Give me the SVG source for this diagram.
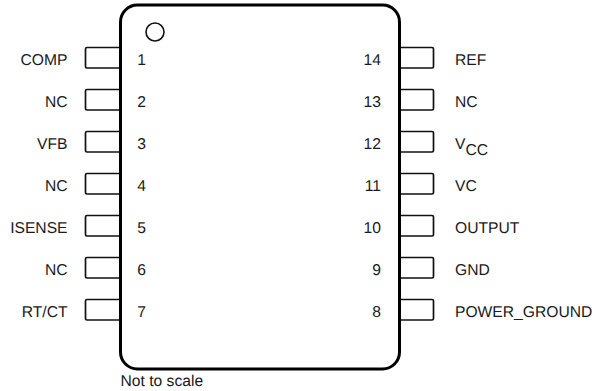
<svg xmlns="http://www.w3.org/2000/svg" width="594" height="391" viewBox="0 0 594 391">
<style>
text{font-family:"Liberation Sans",Arial,sans-serif;font-size:15.65px;fill:#1a1a1a;text-rendering:geometricPrecision}
.e{text-anchor:end}.m{text-anchor:middle}
.pin{fill:#fff;stroke:#111;stroke-width:1.7;stroke-linejoin:round}
</style>
<rect width="594" height="391" fill="#fff"/>
<g id="pins">
<g id="pin1"><path class="pin" d="M120 47.500H87Q85.500 47.500 85.500 49V66.500Q85.500 68 87 68H120"/><text class="e" x="67.500" y="65">COMP</text><text class="m" x="141.500" y="65">1</text></g>
<g id="pin2"><path class="pin" d="M120 89.500H87Q85.500 89.500 85.500 91V108.500Q85.500 110 87 110H120"/><text class="e" x="67.500" y="107">NC</text><text class="m" x="141.500" y="107">2</text></g>
<g id="pin3"><path class="pin" d="M120 131.500H87Q85.500 131.500 85.500 133V150.500Q85.500 152 87 152H120"/><text class="e" x="67.500" y="149">VFB</text><text class="m" x="141.500" y="149">3</text></g>
<g id="pin4"><path class="pin" d="M120 173.500H87Q85.500 173.500 85.500 175V192.500Q85.500 194 87 194H120"/><text class="e" x="67.500" y="191">NC</text><text class="m" x="141.500" y="191">4</text></g>
<g id="pin5"><path class="pin" d="M120 215.500H87Q85.500 215.500 85.500 217V234.500Q85.500 236 87 236H120"/><text class="e" x="67.500" y="233">ISENSE</text><text class="m" x="141.500" y="233">5</text></g>
<g id="pin6"><path class="pin" d="M120 257.500H87Q85.500 257.500 85.500 259V276.500Q85.500 278 87 278H120"/><text class="e" x="67.500" y="275">NC</text><text class="m" x="141.500" y="275">6</text></g>
<g id="pin7"><path class="pin" d="M120 299.500H87Q85.500 299.500 85.500 301V318.500Q85.500 320 87 320H120"/><text class="e" x="67.500" y="317">RT/CT</text><text class="m" x="141.500" y="317">7</text></g>
<g id="pin14"><path class="pin" d="M399 47.500H432Q433.500 47.500 433.500 49V66.500Q433.500 68 432 68H399"/><text x="455" y="65">REF</text><text class="e" x="381" y="65">14</text></g>
<g id="pin13"><path class="pin" d="M399 89.500H432Q433.500 89.500 433.500 91V108.500Q433.500 110 432 110H399"/><text x="455" y="107">NC</text><text class="e" x="381" y="107">13</text></g>
<g id="pin12"><path class="pin" d="M399 131.500H432Q433.500 131.500 433.500 133V150.500Q433.500 152 432 152H399"/><text x="455" y="149">V<tspan dy="5.500">CC</tspan></text><text class="e" x="381" y="149">12</text></g>
<g id="pin11"><path class="pin" d="M399 173.500H432Q433.500 173.500 433.500 175V192.500Q433.500 194 432 194H399"/><text x="455" y="191">VC</text><text class="e" x="381" y="191">11</text></g>
<g id="pin10"><path class="pin" d="M399 215.500H432Q433.500 215.500 433.500 217V234.500Q433.500 236 432 236H399"/><text x="455" y="233">OUTPUT</text><text class="e" x="381" y="233">10</text></g>
<g id="pin9"><path class="pin" d="M399 257.500H432Q433.500 257.500 433.500 259V276.500Q433.500 278 432 278H399"/><text x="455" y="275">GND</text><text class="e" x="381" y="275">9</text></g>
<g id="pin8"><path class="pin" d="M399 299.500H432Q433.500 299.500 433.500 301V318.500Q433.500 320 432 320H399"/><text x="455" y="317">POWER_GROUND</text><text class="e" x="381" y="317">8</text></g>
</g>
<g id="body">
<rect x="120.500" y="5" width="279" height="364" rx="17" ry="17" fill="none" stroke="#000" stroke-width="3"/>
<circle cx="155" cy="32" r="9" fill="none" stroke="#111" stroke-width="1.600"/>
</g>
<text id="note" x="120.500" y="386">Not to scale</text>
<g id="connectors"/>
</svg>
